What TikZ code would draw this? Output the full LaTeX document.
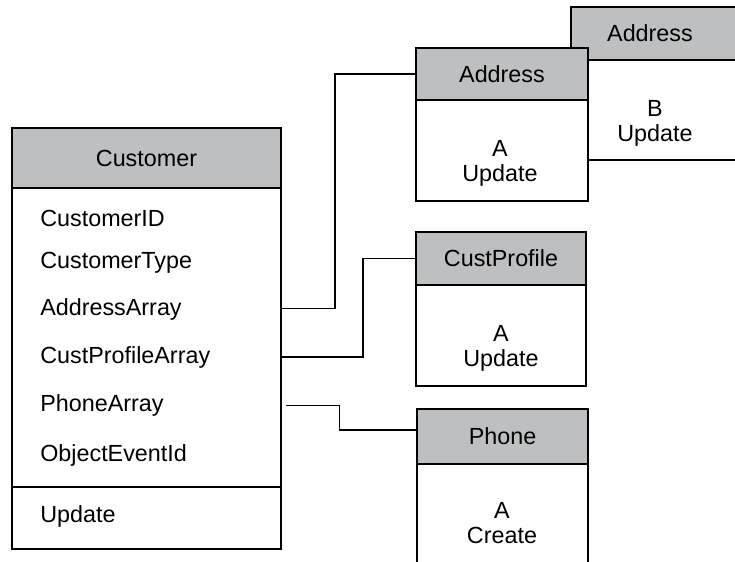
\documentclass[tikz,border=0pt]{standalone}
\usepackage{fontspec}
\setmainfont{Liberation Sans}
\usetikzlibrary{positioning}
\definecolor{hdrgray}{RGB}{190,191,193}
\tikzset{
  box/.style={draw, line width=0.9pt, outer sep=0pt, inner sep=0pt},
  hdr/.style={box, fill=hdrgray},
  attr/.style={anchor=base west, inner sep=0pt, text height=9pt, text depth=0pt},
  link/.style={draw, line width=0.8pt},
}
\begin{document}
\begin{tikzpicture}[x=0.025cm, y=-0.025cm, font=\fontsize{16.6}{17.8}\selectfont]
\clip (0,0) rectangle (735,561);
% second address, cut off at the right
\draw[hdr] (571,7) rectangle (760,60);
\draw[box, fill=white] (571,60) rectangle (760,160);
\node (addrBname) at (650,33.5) {Address};
\node[align=center] (addrBtxt) at (655,123) {B\\Update};
% customer
\node[hdr, minimum width=6.725cm, minimum height=1.5cm] (custhd) at (146.5,158) {Customer};
\node[box, minimum width=6.725cm, minimum height=7.475cm, below=0pt of custhd] (custbody) {};
\node[box, minimum width=6.725cm, minimum height=1.55cm, below=0pt of custbody] (custops) {};
\node[attr] (cid) at (40,226) {CustomerID};
\node[attr] (ctype) at (40,268.3) {CustomerType};
\node[attr] (aarr) at (40,315) {AddressArray};
\node[attr] (cparr) at (40,363.3) {CustProfileArray};
\node[attr] (pharr) at (40,411.7) {PhoneArray};
\node[attr] (oeid) at (40,461.7) {ObjectEventId};
\node[attr] (opupd) at (40,522.7) {Update};
% address
\node[hdr, minimum width=4.3cm, minimum height=1.3cm] (addrA) at (502,74) {Address};
\node[box, fill=white, minimum width=4.3cm, minimum height=2.525cm, below=0pt of addrA] (addrAbody) {};
\node[align=center] (addrAtxt) at (500,163) {A\\Update};
% cust profile
\node[hdr, minimum width=4.25cm, minimum height=1.325cm] (cpro) at (501,258.5) {CustProfile};
\node[box, minimum width=4.25cm, minimum height=2.525cm, below=0pt of cpro] (cprobody) {};
\node[align=center] (cprotxt) at (501,348) {A\\Update};
% phone
\node[hdr, minimum width=4.275cm, minimum height=1.375cm] (phone) at (502.5,436.5) {Phone};
\node[box, minimum width=4.275cm, minimum height=3.4cm, below=0pt of phone] (phonebody) {};
\node[align=center] (phonetxt) at (502,523) {A\\Create};
% links
\draw[link] (custbody.east |- aarr) -- ++(54,0) |- (addrA.west);
\draw[link] (custbody.east |- cparr) -- ++(82,0) |- (cpro.west);
\draw[link] ([xshift=3.6pt]custbody.east |- pharr) -- ++(53,0) |- ([yshift=4.6pt]phone.west);
\end{tikzpicture}
\end{document}
